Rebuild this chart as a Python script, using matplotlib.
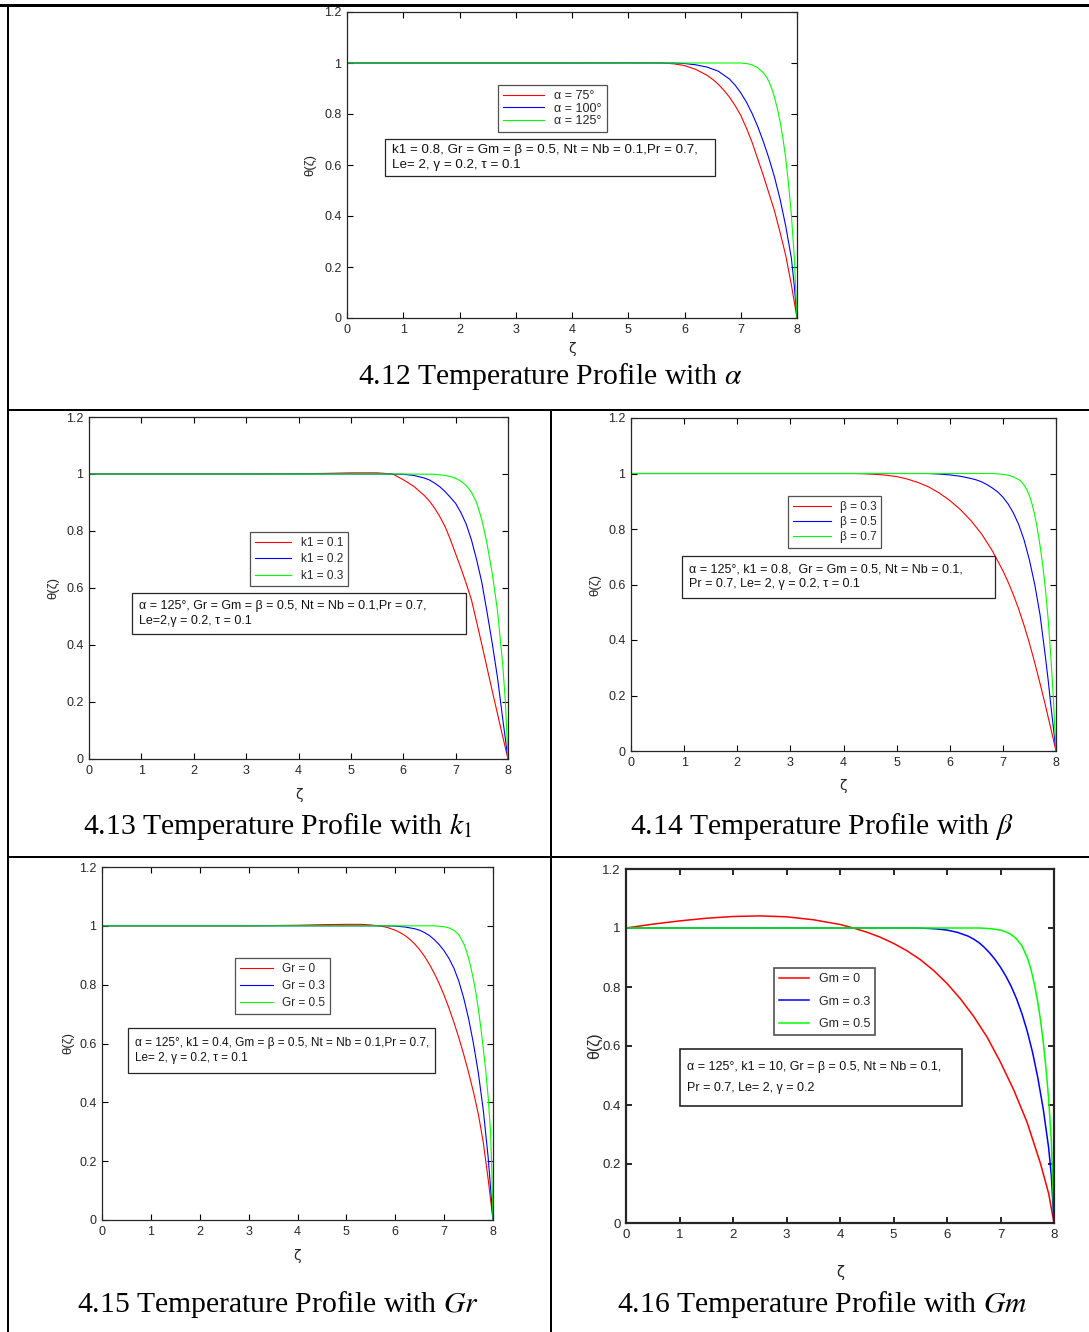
import matplotlib
matplotlib.use("Agg")
import matplotlib.pyplot as plt
from matplotlib.lines import Line2D
from matplotlib.patches import Rectangle

plt.rcParams['font.family'] = ['Liberation Sans', 'DejaVu Sans']
plt.rcParams['mathtext.fontset'] = 'stix'

W, H = 1089, 1332

# ---- temperature profiles theta(zeta), read per curve ----
# 4.12: effect of alpha
z_a75 = [0, 1, 2, 3, 4, 5, 5.6, 5.8, 6.0, 6.2, 6.4, 6.5, 6.6, 6.7, 6.8, 6.9, 7.0, 7.1, 7.2, 7.3, 7.4, 7.5, 7.6, 7.7, 7.8, 7.9, 8.0]
t_a75 = [1, 1, 1, 1, 1, 1.001, 1.0, 0.997, 0.99, 0.975, 0.952, 0.936, 0.917, 0.893, 0.866, 0.833, 0.795, 0.745, 0.69, 0.625, 0.56, 0.49, 0.42, 0.335, 0.245, 0.13, 0]
z_a100 = [0, 1, 2, 3, 4, 5, 5.6, 5.8, 6.0, 6.2, 6.4, 6.6, 6.8, 6.9, 7.0, 7.1, 7.2, 7.3, 7.4, 7.5, 7.6, 7.7, 7.8, 7.9, 7.95, 8.0]
t_a100 = [1, 1, 1, 1, 1, 1, 1.0, 1.0, 0.998, 0.993, 0.984, 0.968, 0.937, 0.913, 0.883, 0.847, 0.803, 0.752, 0.693, 0.627, 0.553, 0.465, 0.36, 0.235, 0.13, 0]
z_a125 = [0, 1, 2, 3, 4, 5, 6, 7.0, 7.1, 7.2, 7.3, 7.35, 7.4, 7.45, 7.5, 7.55, 7.6, 7.65, 7.7, 7.75, 7.8, 7.85, 7.9, 7.95, 8.0]
t_a125 = [1, 1, 1, 1, 1, 1, 1, 1.0, 0.998, 0.993, 0.982, 0.972, 0.962, 0.948, 0.928, 0.9, 0.866, 0.822, 0.77, 0.705, 0.625, 0.525, 0.405, 0.245, 0]

# 4.13: effect of k1
z_k01 = [0, 1, 2, 3, 4, 4.5, 5, 5.5, 5.8, 6.0, 6.2, 6.4, 6.5, 6.6, 6.7, 6.8, 6.9, 7.0, 7.1, 7.2, 7.3, 7.4, 7.5, 7.6, 7.7, 7.8, 7.9, 8.0]
t_k01 = [1, 1, 1, 1, 1.001, 1.002, 1.004, 1.004, 1.0, 0.98, 0.957, 0.925, 0.905, 0.88, 0.85, 0.815, 0.77, 0.72, 0.67, 0.617, 0.56, 0.482, 0.402, 0.32, 0.238, 0.158, 0.078, 0]
z_k02 = [0, 1, 2, 3, 4, 5, 5.5, 6.0, 6.2, 6.4, 6.5, 6.6, 6.7, 6.8, 6.9, 7.0, 7.1, 7.2, 7.3, 7.4, 7.5, 7.6, 7.7, 7.8, 7.9, 8.0]
t_k02 = [1, 1, 1, 1, 1, 1, 1.0, 0.999, 0.995, 0.986, 0.979, 0.968, 0.955, 0.938, 0.918, 0.897, 0.865, 0.825, 0.77, 0.7, 0.62, 0.515, 0.405, 0.285, 0.14, 0]
z_k03 = [0, 1, 2, 3, 4, 5, 6, 6.6, 6.8, 6.9, 7.0, 7.1, 7.2, 7.3, 7.4, 7.5, 7.6, 7.7, 7.8, 7.9, 7.95, 8.0]
t_k03 = [1, 1, 1, 1, 1, 1, 1, 0.999, 0.995, 0.991, 0.985, 0.975, 0.96, 0.937, 0.9, 0.84, 0.755, 0.65, 0.52, 0.33, 0.2, 0]

# 4.14: effect of beta
z_b03 = [0, 1, 2, 3, 4, 4.2, 4.4, 4.6, 4.8, 5.0, 5.2, 5.4, 5.6, 5.8, 6.0, 6.2, 6.4, 6.6, 6.8, 7.0, 7.1, 7.2, 7.3, 7.4, 7.5, 7.6, 7.7, 7.8, 7.9, 8.0]
t_b03 = [1, 1, 1, 1, 1, 1.0, 0.999, 0.997, 0.994, 0.989, 0.98, 0.968, 0.952, 0.93, 0.903, 0.87, 0.83, 0.782, 0.722, 0.65, 0.608, 0.562, 0.51, 0.452, 0.388, 0.318, 0.243, 0.165, 0.083, 0]
z_b05 = [0, 1, 2, 3, 4, 5, 5.6, 5.8, 6.0, 6.2, 6.4, 6.5, 6.6, 6.7, 6.8, 6.9, 7.0, 7.1, 7.2, 7.3, 7.4, 7.5, 7.6, 7.7, 7.8, 7.85, 7.9, 7.95, 8.0]
t_b05 = [1, 1, 1, 1, 1, 1, 1.0, 0.998, 0.995, 0.99, 0.982, 0.977, 0.97, 0.96, 0.948, 0.934, 0.915, 0.89, 0.857, 0.815, 0.76, 0.688, 0.6, 0.49, 0.34, 0.26, 0.17, 0.085, 0]
z_b07 = [0, 1, 2, 3, 4, 5, 6, 6.8, 7.0, 7.1, 7.2, 7.3, 7.35, 7.4, 7.45, 7.5, 7.55, 7.6, 7.65, 7.7, 7.75, 7.8, 7.85, 7.9, 7.95, 8.0]
t_b07 = [1, 1, 1, 1, 1, 1, 1, 1.0, 0.997, 0.994, 0.988, 0.978, 0.97, 0.958, 0.942, 0.92, 0.89, 0.85, 0.8, 0.74, 0.67, 0.585, 0.48, 0.35, 0.19, 0]

# 4.15: effect of Gr
z_gr0 = [0, 1, 2, 3, 4, 4.5, 5, 5.3, 5.5, 5.7, 5.8, 5.9, 6.0, 6.1, 6.2, 6.3, 6.4, 6.5, 6.6, 6.7, 6.8, 6.9, 7.0, 7.1, 7.2, 7.3, 7.4, 7.5, 7.6, 7.7, 7.8, 7.9, 8.0]
t_gr0 = [1, 1, 1, 1, 1.002, 1.004, 1.005, 1.005, 1.003, 0.999, 0.996, 0.991, 0.985, 0.977, 0.967, 0.954, 0.938, 0.919, 0.896, 0.869, 0.838, 0.803, 0.764, 0.72, 0.672, 0.62, 0.563, 0.502, 0.435, 0.36, 0.265, 0.14, 0]
z_gr3 = [0, 1, 2, 3, 4, 5, 5.8, 6.0, 6.2, 6.4, 6.5, 6.6, 6.7, 6.8, 6.9, 7.0, 7.1, 7.2, 7.3, 7.4, 7.5, 7.6, 7.7, 7.8, 7.9, 7.95, 8.0]
t_gr3 = [1, 1, 1, 1, 1, 1, 1.0, 0.999, 0.996, 0.99, 0.985, 0.977, 0.967, 0.953, 0.936, 0.915, 0.889, 0.856, 0.812, 0.755, 0.685, 0.6, 0.5, 0.375, 0.215, 0.11, 0]
z_gr5 = [0, 1, 2, 3, 4, 5, 6, 6.8, 7.0, 7.1, 7.2, 7.3, 7.4, 7.45, 7.5, 7.55, 7.6, 7.65, 7.7, 7.75, 7.8, 7.85, 7.9, 7.95, 7.975, 8.0]
t_gr5 = [1, 1, 1, 1, 1, 1, 1, 1.0, 0.997, 0.993, 0.985, 0.97, 0.94, 0.918, 0.89, 0.857, 0.818, 0.772, 0.718, 0.655, 0.585, 0.51, 0.42, 0.3, 0.17, 0]

# 4.16: effect of Gm
z_gm0 = [0, 0.5, 1, 1.5, 2, 2.5, 3, 3.5, 4, 4.25, 4.5, 4.75, 5.0, 5.25, 5.5, 5.75, 6.0, 6.25, 6.5, 6.75, 7.0, 7.25, 7.5, 7.75, 7.9, 8.0]
t_gm0 = [1.0, 1.013, 1.024, 1.033, 1.039, 1.041, 1.038, 1.028, 1.012, 1.0, 0.986, 0.969, 0.948, 0.923, 0.893, 0.856, 0.812, 0.76, 0.7, 0.63, 0.545, 0.45, 0.34, 0.2, 0.1, 0]
z_gm3 = [0, 1, 2, 3, 4, 5, 5.4, 5.6, 5.8, 6.0, 6.2, 6.4, 6.5, 6.6, 6.7, 6.8, 6.9, 7.0, 7.1, 7.2, 7.3, 7.4, 7.5, 7.6, 7.7, 7.8, 7.9, 7.95, 8.0]
t_gm3 = [1, 1, 1, 1, 1, 1, 1.0, 0.999, 0.997, 0.993, 0.985, 0.972, 0.962, 0.95, 0.934, 0.915, 0.893, 0.867, 0.837, 0.802, 0.76, 0.71, 0.65, 0.578, 0.49, 0.385, 0.255, 0.16, 0]
z_gm5 = [0, 1, 2, 3, 4, 5, 6, 6.6, 6.8, 7.0, 7.1, 7.2, 7.3, 7.4, 7.5, 7.55, 7.6, 7.65, 7.7, 7.75, 7.8, 7.85, 7.9, 7.95, 8.0]
t_gm5 = [1, 1, 1, 1, 1, 1, 1, 1.0, 0.998, 0.993, 0.987, 0.978, 0.963, 0.94, 0.9, 0.872, 0.837, 0.795, 0.745, 0.685, 0.612, 0.525, 0.42, 0.28, 0]

xticks = [0, 1, 2, 3, 4, 5, 6, 7, 8]
yticks = [0, 0.2, 0.4, 0.6, 0.8, 1, 1.2]
ytick_labels = ['0', '0.2', '0.4', '0.6', '0.8', '1', '1.2']
colors = ['#ff0000', '#0000ff', '#00ff00']

panels = [
    dict(curves=[(z_a75, t_a75), (z_a100, t_a100), (z_a125, t_a125)],
         labels=['α = 75°', 'α = 100°', 'α = 125°'],
         note='k1 = 0.8, Gr = Gm = β = 0.5, Nt = Nb = 0.1,Pr = 0.7,\nLe= 2, γ = 0.2, τ = 0.1',
         caption=r'4.12 Temperature Profile with $\alpha$',
         ax=(347, 12, 797, 318), leg=(498, 85), box=(385, 139, 715, 176),
         cap=(550, 377), xlab=349, ylab=310, lsp=0.05, hl=3.3, leg_fs=9, note_fs=9.6),
    dict(curves=[(z_k01, t_k01), (z_k02, t_k02), (z_k03, t_k03)],
         labels=['k1 = 0.1', 'k1 = 0.2', 'k1 = 0.3'],
         note='α = 125°, Gr = Gm = β = 0.5, Nt = Nb = 0.1,Pr = 0.7,\nLe=2,γ = 0.2, τ = 0.1',
         caption=r'4.13 Temperature Profile with $k_1$',
         ax=(89, 417, 508, 759), leg=(250, 532), box=(132, 593, 466, 634),
         cap=(278, 826), xlab=795, ylab=53, lsp=0.38, hl=3.1, leg_fs=8.5, note_fs=9),
    dict(curves=[(z_b03, t_b03), (z_b05, t_b05), (z_b07, t_b07)],
         labels=['β = 0.3', 'β = 0.5', 'β = 0.7'],
         note='α = 125°, k1 = 0.8,  Gr = Gm = 0.5, Nt = Nb = 0.1,\nPr = 0.7, Le= 2, γ = 0.2, τ = 0.1',
         caption=r'4.14 Temperature Profile with $\beta$',
         ax=(631, 418, 1056, 751), leg=(788, 496), box=(682, 556, 995, 598),
         cap=(822, 826), xlab=786, ylab=595, lsp=0.28, hl=3.2, leg_fs=8.5, note_fs=9),
    dict(curves=[(z_gr0, t_gr0), (z_gr3, t_gr3), (z_gr5, t_gr5)],
         labels=['Gr = 0', 'Gr = 0.3', 'Gr = 0.5'],
         note='α = 125°, k1 = 0.4, Gm = β = 0.5, Nt = Nb = 0.1,Pr = 0.7,\nLe= 2, γ = 0.2, τ = 0.1',
         caption=r'4.15 Temperature Profile with $Gr$',
         ax=(102, 867, 493, 1220), leg=(235, 958), box=(128, 1028, 435, 1073),
         cap=(278, 1305), xlab=1256, ylab=68, lsp=0.45, hl=2.8, leg_fs=8.5, note_fs=8.5),
    dict(curves=[(z_gm0, t_gm0), (z_gm3, t_gm3), (z_gm5, t_gm5)],
         labels=['Gm = 0', 'Gm = o.3', 'Gm = 0.5'],
         note='α = 125°, k1 = 10, Gr = β = 0.5, Nt = Nb = 0.1,\nPr = 0.7, Le= 2, γ = 0.2',
         caption=r'4.16 Temperature Profile with $Gm$',
         ax=(626, 869, 1054, 1223), leg=(774, 968), box=(680, 1049, 962, 1106),
         cap=(822, 1305), xlab=1273, ylab=595, lsp=0.85, hl=2.4, leg_fs=9, note_fs=9,
         heavy=True),
]

fig = plt.figure(figsize=(W / 100, H / 100), dpi=100)
fig.patch.set_facecolor('white')


def fx(px):
    return px / W


def fy(py):
    return 1 - py / H


fam = ['Liberation Sans', 'DejaVu Sans']

for p in panels:
    l, t, r, b = p['ax']
    ax = fig.add_axes([fx(l), fy(b), (r - l) / W, (b - t) / H])
    heavy = p.get('heavy', False)
    tick_fs = 9.5 if heavy else 9
    lw = 1.1 if heavy else 0.8

    for (z, th), c, lab in zip(p['curves'], colors, p['labels']):
        ax.plot(z, th, color=c, lw=lw, label=lab)

    ax.set_xlim(0, 8)
    ax.set_ylim(0, 1.2)
    ax.set_xticks(xticks)
    ax.set_yticks(yticks)
    ax.set_xticklabels([str(v) for v in xticks], family=fam, fontsize=tick_fs, color='#262626')
    ax.set_yticklabels(ytick_labels, family=fam, fontsize=tick_fs, color='#262626')
    ax.tick_params(direction='in', length=4, width=1.2 if heavy else 0.8,
                   top=True, right=True, pad=4)
    for s in ax.spines.values():
        s.set_linewidth(1.6 if heavy else 0.9)
        s.set_color('#262626')

    # axis labels
    ax.text(0.5, (b - p['xlab']) / (b - t), 'ζ',
            transform=ax.transAxes, ha='center', va='center', fontsize=tick_fs + 1,
            color='#262626', family=['DejaVu Sans'])
    ax.text((p['ylab'] - l) / (r - l), 0.5, 'θ(ζ)', transform=ax.transAxes,
            ha='center', va='center', rotation=90, fontsize=tick_fs + (2 if heavy else 0.5),
            color='#262626', family=fam)

    # legend
    lx, ly = p['leg']
    leg = ax.legend(loc='upper left', bbox_to_anchor=((lx - l) / (r - l), (b - ly) / (b - t)),
                    borderaxespad=0, frameon=True, fancybox=False, handlelength=p['hl'],
                    handletextpad=0.8, labelspacing=p['lsp'],
                    borderpad=0.4, prop=dict(family=fam, size=p['leg_fs']))
    leg.get_frame().set_edgecolor('#262626')
    leg.get_frame().set_linewidth(1.2 if heavy else 0.9)
    for txt in leg.get_texts():
        txt.set_color('#262626')

    # parameter box
    bx0, by0, bx1, by1 = p['box']
    ax.add_patch(Rectangle(((bx0 - l) / (r - l), (b - by1) / (b - t)),
                           (bx1 - bx0) / (r - l), (by1 - by0) / (b - t),
                           transform=ax.transAxes, facecolor='white', edgecolor='#262626',
                           lw=1.2 if heavy else 0.9, zorder=5))
    ax.text((bx0 + 7 - l) / (r - l), (b - 0.5 * (by0 + by1)) / (b - t), p['note'],
            transform=ax.transAxes, ha='left', va='center', fontsize=p['note_fs'],
            linespacing=1.9 if heavy else 1.3, color='#111111', family=fam, zorder=6)

    # caption
    cx, cy = p['cap']
    fig.text(fx(cx), fy(cy), p['caption'], ha='center', va='center',
             fontsize=21.3, family=['Liberation Serif', 'DejaVu Serif'])

# table rules
rules = [((0, W), (5, 5), 3), ((8, W), (410, 410), 2), ((8, W), (857, 857), 2),
         ((8, 8), (5, H), 2), ((551, 551), (410, H), 2)]
for xs, ys, w in rules:
    fig.add_artist(Line2D([fx(xs[0]), fx(xs[1])], [fy(ys[0]), fy(ys[1])],
                          transform=fig.transFigure, color='black', lw=w * 0.72))

fig.savefig('out.png', dpi=100, facecolor='white')
